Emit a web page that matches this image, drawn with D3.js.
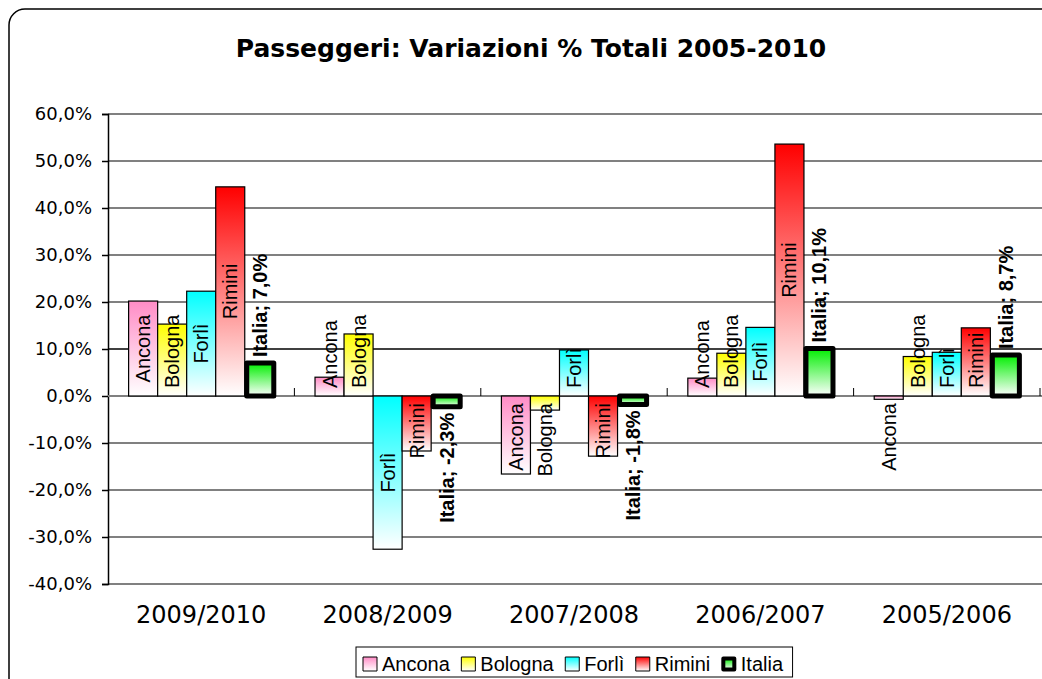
<!DOCTYPE html>
<html>
<head>
<meta charset="utf-8">
<script src="https://cdn.jsdelivr.net/npm/d3@7"></script>
<style>
  body { margin: 0; background: #fff; }
  svg { display: block; }
</style>
</head>
<body>
<div id="chart"></div>
<script>
// data (percent values)
let categories = ["2009/2010", "2008/2009", "2007/2008", "2006/2007", "2005/2006"]
let seriesNames = ["Ancona", "Bologna", "Forlì", "Rimini", "Italia"]
let ancona  = [20.2, 4.0, -16.6, 3.8, -0.7]
let bologna = [15.3, 13.2, -3.0, 9.1, 8.4]
let forli   = [22.3, -32.6, 9.8, 14.6, 9.3]
let rimini  = [44.5, -11.7, -12.8, 53.6, 14.5]
let italia  = [7.0, -2.3, -1.8, 10.1, 8.7]
let yTicks  = [60, 50, 40, 30, 20, 10, 0, -10, -20, -30, -40]
let colors  = ["#ff8cc6", "#ffff00", "#00ffff", "#ff0000", "#00ee00"]

let width = 1042
let height = 679
let plot = {left: 108, right: 1040, top: 114, bottom: 584}

let values = [ancona, bologna, forli, rimini, italia]

let svg = d3.select("#chart").append("svg")
    .attr("width", width)
    .attr("height", height)

let defs = svg.append("defs")
seriesNames.forEach((s, i) => {
    let g = defs.append("linearGradient")
        .attr("id", "grad" + i)
        .attr("x1", 0).attr("y1", 0).attr("x2", 0).attr("y2", 1)
    g.append("stop").attr("offset", "0%").attr("stop-color", colors[i])
    g.append("stop").attr("offset", "100%").attr("stop-color", "#ffffff")
})

// outer chart frame
svg.append("rect")
    .attr("x", 9).attr("y", 9)
    .attr("width", 1100).attr("height", 720)
    .attr("rx", 16)
    .attr("fill", "#fff")
    .attr("stroke", "#000")
    .attr("stroke-width", 1.5)

let yScale = d3.scaleLinear().domain([-40, 60]).range([plot.bottom, plot.top])
let xScale = d3.scaleBand().domain(categories).range([plot.left, plot.right]).padding(0)
let xInner = d3.scaleBand().domain(seriesNames).range([0, xScale.bandwidth()])
    .paddingInner(0).paddingOuter(0.71)

let fmt = v => d3.format(".1f")(v).replace(".", ",").replace("−", "-")

// gridlines
svg.append("g")
    .selectAll("line")
    .data(yTicks)
    .join("line")
    .attr("x1", plot.left).attr("x2", width)
    .attr("y1", d => yScale(d)).attr("y2", d => yScale(d))
    .attr("stroke", d => d == 10 ? "#000" : "#808080")
    .attr("stroke-width", d => d == 10 ? 1.5 : 2)

// y axis
let yAxis = svg.append("g")
    .attr("transform", "translate(" + plot.left + ",0)")
    .call(d3.axisLeft(yScale).tickValues(yTicks).tickSize(6).tickPadding(10)
        .tickFormat(d => fmt(d) + "%"))
yAxis.select(".domain").attr("stroke", "#000").attr("stroke-width", 1.5)
yAxis.selectAll(".tick line").attr("stroke", "#000").attr("stroke-width", 1.5)
yAxis.selectAll(".tick text")
    .attr("fill", "#000")
    .style("font-family", "Verdana, 'DejaVu Sans', sans-serif")
    .style("font-size", "18px")

// zero axis with category ticks
svg.append("line")
    .attr("x1", plot.left).attr("x2", width)
    .attr("y1", yScale(0)).attr("y2", yScale(0))
    .attr("stroke", "#808080").attr("stroke-width", 2)
svg.append("g")
    .selectAll("line")
    .data(categories.slice(1).concat(["end"]))
    .join("line")
    .attr("x1", (d, i) => plot.left + (i + 1) * xScale.step())
    .attr("x2", (d, i) => plot.left + (i + 1) * xScale.step())
    .attr("y1", yScale(0) - 8).attr("y2", yScale(0))
    .attr("stroke", "#000").attr("stroke-width", 1)

// category labels
svg.append("g")
    .selectAll("text")
    .data(categories)
    .join("text")
    .attr("x", d => xScale(d) + xScale.bandwidth() / 2)
    .attr("y", 623)
    .attr("text-anchor", "middle")
    .style("font-family", "Verdana, 'DejaVu Sans', sans-serif")
    .style("font-size", "24px")
    .text(d => d)

// bars
let bars = []
seriesNames.forEach((s, si) => {
    categories.forEach((c, ci) => {
        bars.push({series: s, si: si, cat: c, value: values[si][ci]})
    })
})

let barG = svg.append("g")
barG.selectAll("rect")
    .data(bars.filter(d => d.series != "Italia"))
    .join("rect")
    .attr("x", d => xScale(d.cat) + xInner(d.series))
    .attr("y", d => yScale(Math.max(0, d.value)))
    .attr("width", xInner.bandwidth())
    .attr("height", d => Math.abs(yScale(d.value) - yScale(0)))
    .attr("fill", d => "url(#grad" + d.si + ")")
    .attr("stroke", "#000")
    .attr("stroke-width", 1.2)

let italiaBars = bars.filter(d => d.series == "Italia")
barG.selectAll("rect.italia")
    .data(italiaBars)
    .join("rect")
    .attr("class", "italia")
    .attr("x", d => xScale(d.cat) + xInner(d.series) + 2)
    .attr("y", d => yScale(Math.max(0, d.value)))
    .attr("width", xInner.bandwidth() - 2)
    .attr("height", d => Math.abs(yScale(d.value) - yScale(0)))
    .attr("fill", "url(#grad4)")
    .attr("stroke", "#000")
    .attr("stroke-width", 5)
    .attr("stroke-linejoin", "round")

// series name labels, centred in bar but kept a little off the base line
let labelG = svg.append("g")
bars.filter(d => d.series != "Italia").forEach(d => {
    let cx = xScale(d.cat) + xInner(d.series) + xInner.bandwidth() / 2
    let t = labelG.append("text")
        .attr("text-anchor", "middle")
        .attr("dy", "0.35em")
        .style("font-family", "Arial, 'Liberation Sans', sans-serif")
        .style("font-size", "20px")
        .text(d.series)
    let len = t.node().getComputedTextLength()
    let mid = (yScale(d.value) + yScale(0)) / 2
    let cy
    if (d.value >= 0) cy = Math.min(mid, yScale(0) - 8 - len / 2)
    else cy = Math.max(mid, yScale(0) + 7 + len / 2)
    t.attr("transform", "translate(" + cx + "," + cy + ") rotate(-90)")
})

// Italia value labels, outside end
italiaBars.forEach(d => {
    let cx = xScale(d.cat) + xInner(d.series) + xInner.bandwidth() / 2 + 1
    let y = d.value >= 0 ? yScale(d.value) - 6 : yScale(d.value) + 6
    labelG.append("text")
        .attr("text-anchor", d.value >= 0 ? "start" : "end")
        .attr("dy", "0.35em")
        .attr("transform", "translate(" + cx + "," + y + ") rotate(-90)")
        .style("font-family", "Arial, 'Liberation Sans', sans-serif")
        .style("font-size", "20px")
        .style("font-weight", "bold")
        .text("Italia; " + fmt(d.value) + "%")
})

// title
svg.append("text")
    .attr("x", 531)
    .attr("y", 57)
    .attr("text-anchor", "middle")
    .style("font-family", "'DejaVu Sans', Verdana, sans-serif")
    .style("font-weight", "bold")
    .style("font-size", "25px")
    .text("Passeggeri: Variazioni % Totali 2005-2010")

// legend
let legend = svg.append("g")
let lx = 363
let ly = 664
let box = legend.append("rect")
    .attr("y", 647).attr("height", 30)
    .attr("fill", "#fff").attr("stroke", "#000").attr("stroke-width", 1)
seriesNames.forEach((s, i) => {
    let isIt = s == "Italia"
    legend.append("rect")
        .attr("x", lx + (isIt ? 1.5 : 0)).attr("y", ly - 7 + (isIt ? 1.5 : 0))
        .attr("width", isIt ? 11 : 14).attr("height", isIt ? 11 : 14)
        .attr("fill", "url(#grad" + i + ")")
        .attr("stroke", "#000")
        .attr("stroke-width", isIt ? 4 : 1)
        .attr("stroke-linejoin", "round")
    let t = legend.append("text")
        .attr("x", lx + 19).attr("y", ly + 7)
        .style("font-family", "Arial, 'Liberation Sans', sans-serif")
        .style("font-size", "20px")
        .text(s)
    lx += 19 + t.node().getComputedTextLength() + 11.5
})
box.attr("x", 356).attr("width", lx - 356 - 2)
</script>
</body>
</html>
